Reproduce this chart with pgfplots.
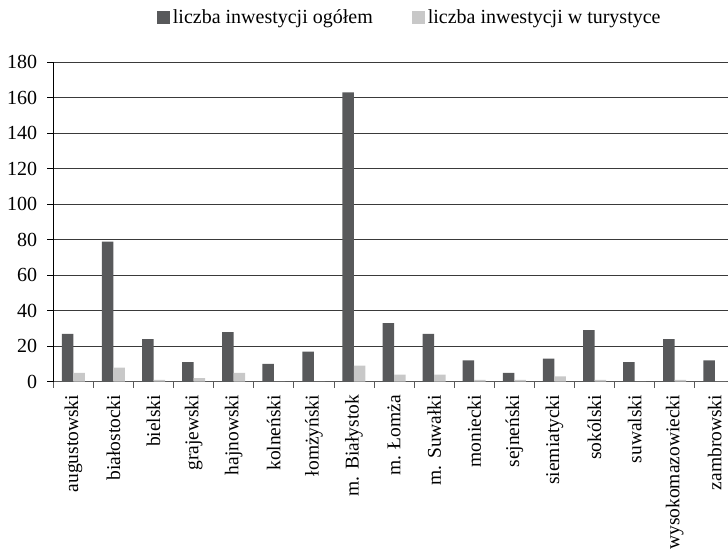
\documentclass[border=0pt]{standalone}
\usepackage{fontspec}
\setmainfont{Liberation Serif}
\usepackage{pgfplots}
\pgfplotsset{compat=1.18}
\definecolor{darkbar}{HTML}{58595B}
\definecolor{lightbar}{HTML}{C8C8C8}
\definecolor{gridc}{HTML}{3A3A3A}
\begin{document}
\fontsize{20bp}{24bp}\selectfont
\begin{tikzpicture}
\begin{axis}[
 at={(0,0)}, anchor=south west,
 scale only axis, width=674.7bp, height=319.4bp,
 ybar=0pt, bar width=11.5bp,
 xmin=-0.5, xmax=16.33, ymin=0, ymax=180,
 axis lines*=left,
 x axis line style={draw=black!65, line width=1.2pt},
 y axis line style={draw=black, line width=0.8pt},
 ytick={0,20,...,180},
 /pgf/number format/assume math mode=true,
 tick align=outside,
 major tick length=6bp,
 tick style={draw=black, line width=0.8pt},
 ymajorgrids=true,
 grid style={draw=gridc, line width=0.8pt},
 yticklabel style={inner sep=0pt, xshift=-10bp},
 xtick={-0.5,0.5,...,15.5},
 xticklabels={},
 x tick style={draw=black!65, line width=0.8pt},
 extra x ticks={0,...,16},
 extra x tick labels={augustowski,białostocki,bielski,grajewski,hajnowski,kolneński,łomżyński,m. Białystok,m. Łomża,m. Suwałki,moniecki,sejneński,siemiatycki,sokólski,suwalski,wysokomazowiecki,zambrowski},
 extra x tick style={major tick length=0pt, xticklabel style={inner sep=0pt, font=\fontsize{19.5bp}{23bp}\selectfont, yshift=-13bp, rotate=90, anchor=east}},
 legend style={at={(0.529,1)}, anchor=center, yshift=44.3bp, draw=none, fill=none,
   legend columns=2, /tikz/every even column/.append style={column sep=37bp},
   nodes={inner sep=2.5bp}, cells={anchor=west}},
 legend image code/.code={\fill[#1, draw=none] (0bp,-6.5bp) rectangle (13bp,6.5bp);},
]
\addplot[fill=darkbar, draw=none] coordinates {
 (0,27) (1,79) (2,24) (3,11) (4,28) (5,10) (6,17) (7,163) (8,33) (9,27)
 (10,12) (11,5) (12,13) (13,29) (14,11) (15,24) (16,12)};
\addplot[fill=lightbar, draw=none] coordinates {
 (0,5) (1,8) (2,1) (3,2) (4,5) (5,0) (6,0) (7,9) (8,4) (9,4)
 (10,1) (11,1) (12,3) (13,1) (14,0) (15,1) (16,0)};
\legend{liczba inwestycji ogółem, liczba inwestycji w turystyce}
\end{axis}
\pgfresetboundingbox
\path (-53.3bp,-171.3bp) rectangle (674.7bp,381.7bp);
\end{tikzpicture}
\end{document}
